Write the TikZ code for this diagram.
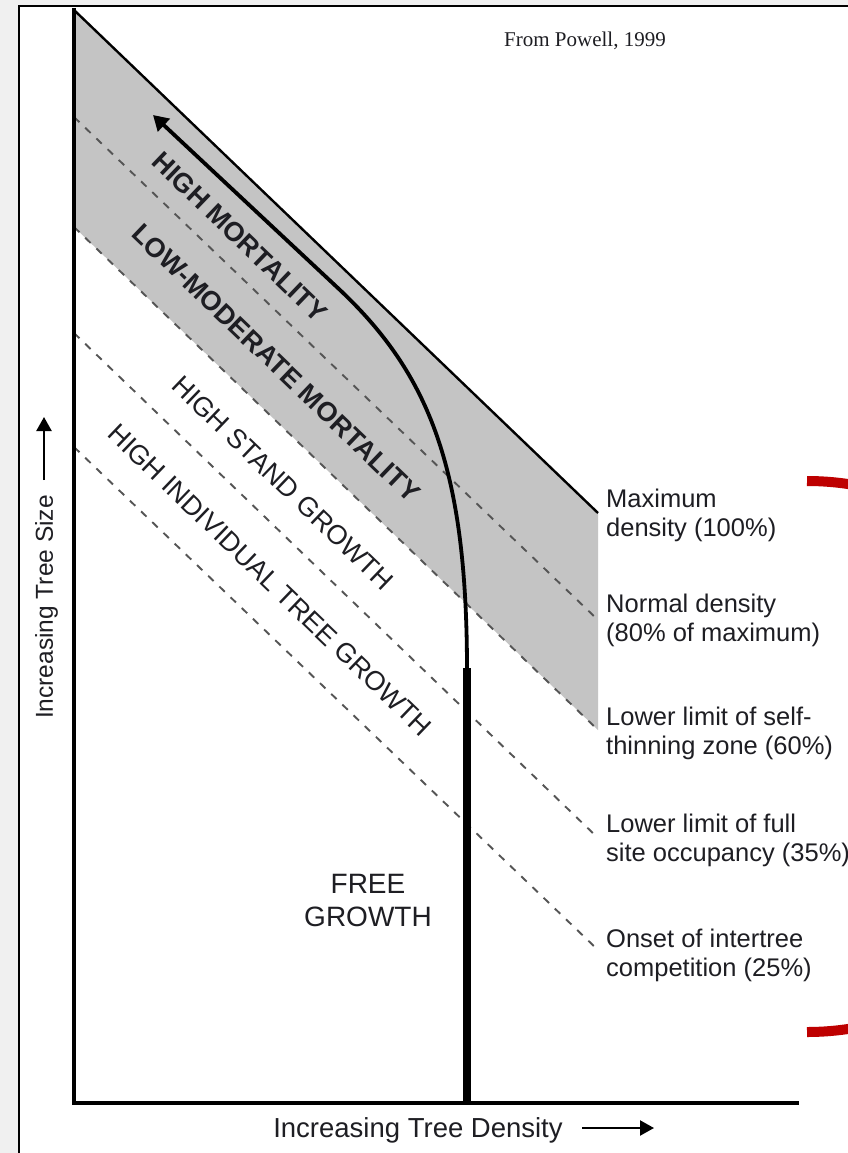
\documentclass[tikz,border=0pt]{standalone}
\usepackage{fontspec}
\setmainfont{Liberation Sans}
\newfontfamily\powellfont{Liberation Serif}
\usetikzlibrary{arrows.meta}
\definecolor{bggray}{RGB}{240,240,240}
\definecolor{zonegray}{RGB}{196,196,196}
\definecolor{dashgray}{RGB}{85,85,85}
\definecolor{txt}{RGB}{30,30,35}
\definecolor{redmark}{RGB}{190,0,0}
\newcommand\twolines[2]{\vtop{\baselineskip=29.5pt\hbox{#1}\hbox{#2}}}
\begin{document}
\begin{tikzpicture}[x=1pt,y=-1pt,
  dashline/.style={dashgray, line width=1.9pt, dash pattern=on 7.5pt off 8pt},
  diaglabel/.style={rotate=-43.83, inner sep=0pt, text=txt, font=\fontsize{27}{27}\selectfont},
  diagbold/.style={rotate=-43.83, inner sep=0pt, text=txt, font=\fontsize{27}{27}\selectfont\bfseries},
  rightlabel/.style={anchor=base west, inner sep=0pt, text=txt, font=\fontsize{25.5}{29.5}\selectfont},
  axislabel/.style={inner sep=0pt, text=txt},
  axisarrow/.style={line width=2.3pt, -{Triangle[length=14pt,width=15pt]}}
]
\useasboundingbox (0,0) rectangle (848,1153);
% page background and frame
\fill[bggray] (0,0) rectangle (848,1153);
\filldraw[fill=white, draw=black, line width=2.5pt] (19,6) rectangle (900,1220);

% zone coordinates
\coordinate (o) at (74,1103);
\coordinate (ytop) at (74,8);
\coordinate (xend) at (799,1103);
\coordinate (m0) at (74,10);   \coordinate (m1) at (598,513);
\coordinate (n0) at (74,117);  \coordinate (n1) at (598,620);
\coordinate (s0) at (74,227);  \coordinate (s1) at (598,730);
\coordinate (f0) at (74,333);  \coordinate (f1) at (598,838);
\coordinate (c0) at (74,447);  \coordinate (c1) at (598,950);

% self-thinning zone
\fill[zonegray] (m0) -- (m1) -- (s1) -- (s0) -- cycle;

% density lines
\draw[dashline] (n0) -- (n1);
\draw[dashline] (s0) -- (s1);
\draw[dashline] (f0) -- (f1);
\draw[dashline] (c0) -- (c1);
\draw[black, line width=2.4pt] (m0) -- (m1);

% axes
\draw[black, line width=4pt] (ytop) -- (o) -- (xend);

% trajectory
\coordinate (t0) at (467,1103);
\coordinate (t1) at (467,668);
\coordinate (t2) at (340,290);
\coordinate (t3) at (153,115);
\draw[black, line width=8pt] (t0) -- (t1);
\draw[black, line width=3.8pt, -{Triangle[length=15pt,width=17pt]}]
  ([yshift=-2pt]t1) .. controls (467,470) and (430,375) .. (t2) -- (t3);

% diagonal labels
\node[diagbold] (hm) at (240,237) {HIGH MORTALITY};
\node[diagbold] (lm) at (276,363) {LOW-MODERATE MORTALITY};
\node[diaglabel] (hs) at (283,483) {HIGH STAND GROWTH};
\node[diaglabel] (hi) at (270,580) {HIGH INDIVIDUAL TREE GROWTH};

% free growth
\node[axislabel, align=center, font=\fontsize{28}{33}\selectfont] (fg) at (368,900) {FREE\\GROWTH};

% right labels
\node[rightlabel] (l100) at (606,507) {\twolines{Maximum}{density (100\%)}};
\node[rightlabel] (l80) at (606,612) {\twolines{Normal density}{(80\% of maximum)}};
\node[rightlabel] (l60) at (606,725) {\twolines{Lower limit of self-}{thinning zone (60\%)}};
\node[rightlabel] (l35) at (606,832) {\twolines{Lower limit of full}{site occupancy (35\%)}};
\node[rightlabel] (l25) at (606,947) {\twolines{Onset of intertree}{competition (25\%)}};

% axis labels
\node[axislabel, anchor=base, font=\fontsize{27.5}{30}\selectfont] (xlab) at (418,1137) {Increasing Tree Density};
\coordinate (xa0) at (582,1128); \coordinate (xa1) at (654,1128);
\draw[axisarrow] (xa0) -- (xa1);
\node[axislabel, rotate=90, font=\fontsize{24.5}{28}\selectfont] (ylab) at (46.5,607) {Increasing Tree Size};
\coordinate (ya0) at (44,480); \coordinate (ya1) at (44,417);
\draw[axisarrow] (ya0) -- (ya1);

% source
\node[axislabel, anchor=base, font=\powellfont\fontsize{21}{24}\selectfont] (src) at (585,47) {From Powell, 1999};

% red bracket
\begin{scope}
\clip (0,0) rectangle (848,1153);
\coordinate (rb) at (807,481);
\draw[redmark, line width=10pt] (rb) arc[start angle=90, end angle=-90, radius=275.5pt];
\end{scope}
\end{tikzpicture}
\end{document}
